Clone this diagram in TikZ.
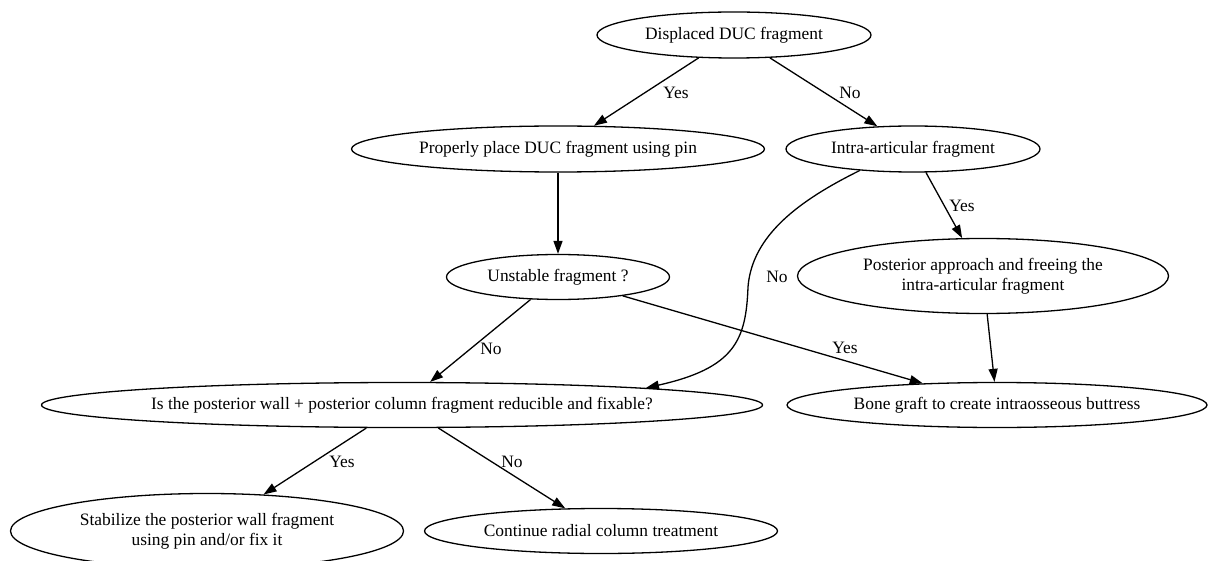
\documentclass[tikz,border=0pt]{standalone}
\usepackage{fontspec}
\setmainfont{Liberation Serif}
\usetikzlibrary{shapes.geometric, arrows.meta}

\begin{document}
\begin{tikzpicture}[
			x=1pt, y=-1pt,
			every node/.style={font=\fontsize{17.4}{20}\selectfont},
			box/.style={draw, ellipse, inner sep=0pt, line width=1.3pt, align=center},
			lbl/.style={inner sep=0pt},
			>={Triangle[length=13pt, width=9pt]},
			line width=1.3pt,
		]
		\useasboundingbox (0,0) rectangle (1209,561);

		% Row 1 nodes
		\node[box, minimum width=274, minimum height=46] (A1) at (734,35) {Displaced DUC fragment};

		% Row 2 nodes
		\node[box, minimum width=413, minimum height=46] (B1) at (558,149) {Properly place DUC fragment using pin};
		\node[box, minimum width=254, minimum height=46] (B2) at (913,149) {Intra-articular fragment};

		% Row 3 nodes
		\node[box, minimum width=223, minimum height=45] (C1) at (558,277) {Unstable fragment ?};
		\node[box, minimum width=371, minimum height=75] (C2) at (983,276) {Posterior approach and freeing the\\intra-articular fragment};

		% Row 4 nodes
		\node[box, minimum width=721, minimum height=45] (D1) at (402,405) {Is the posterior wall + posterior column fragment reducible and fixable?};
		\node[box, minimum width=420, minimum height=45] (D2) at (997,405) {Bone graft to create intraosseous buttress};

		% Row 5 nodes
		\node[box, minimum width=393, minimum height=75] (E1) at (207,531) {Stabilize the posterior wall fragment\\using pin and/or fix it};
		\node[box, minimum width=353, minimum height=45] (E2) at (601,531) {Continue radial column treatment};

		% Connections from Row 1 to Row 2
		\draw[->] (A1) -- (B1);
		\draw[->] (A1) -- (B2);

		% Connections from Row 2 to Row 3
		\draw[->] (B1) -- (C1);
		\draw[->] (B2) -- (C2);
		\coordinate (bend) at (748,287);
		\draw[->] (B2.202) .. controls (800,200) and (752,235) .. (bend)
			.. controls (746,340) and (735,368) .. (D1.4);

		% Connections from Row 3 to Row 4
		\draw[->] (C1) -- (D1);
		\draw[->] (C1) -- (D2);
		\draw[->] (C2) -- (D2);

		% Connections from Row 4 to Row 5
		\draw[->] (D1) -- (E1);
		\draw[->] (D1) -- (E2);

		% Labels for the connections
		\node[lbl] (yes1) at (676,93) {Yes};
		\node[lbl] (no1) at (850,93) {No};
		\node[lbl] (yes2) at (962,206) {Yes};
		\node[lbl] (no2) at (777,277) {No};
		\node[lbl] (no3) at (491,349) {No};
		\node[lbl] (yes3) at (845,348) {Yes};
		\node[lbl] (yes4) at (342,462) {Yes};
		\node[lbl] (no4) at (512,462) {No};
	\end{tikzpicture}
\end{document}
